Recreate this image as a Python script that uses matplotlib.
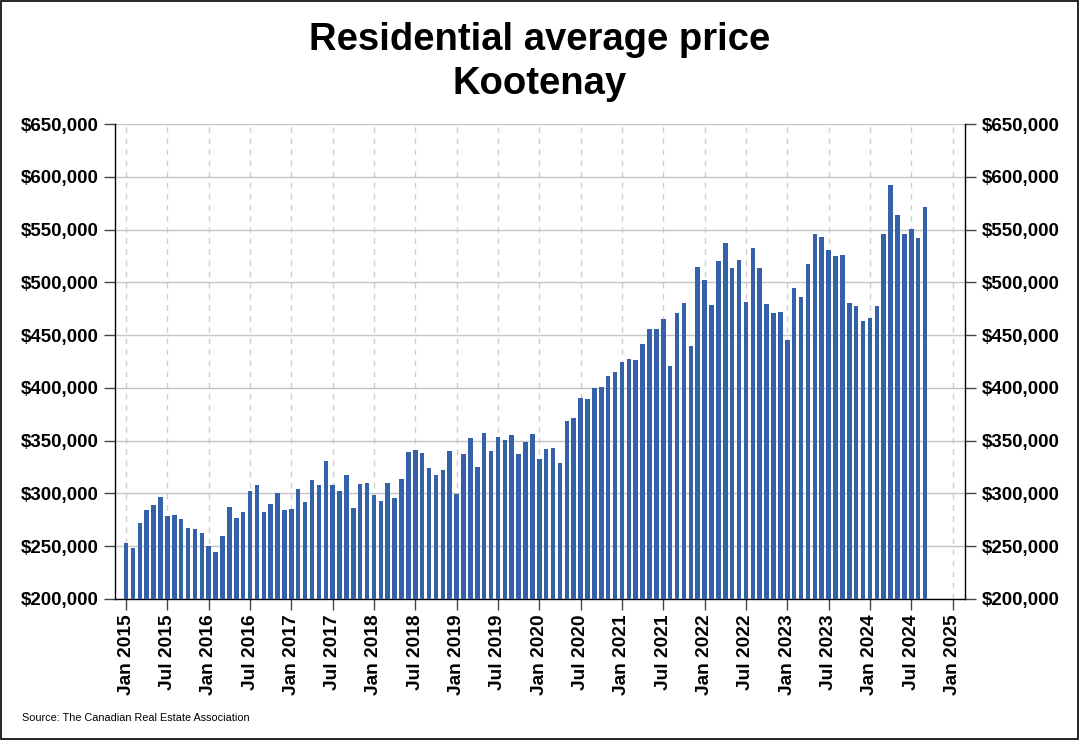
import matplotlib
matplotlib.use("Agg")
import matplotlib.pyplot as plt
from matplotlib.ticker import FuncFormatter, MultipleLocator, FixedLocator
from matplotlib.patches import Rectangle

plt.rcParams['font.family'] = ['Liberation Sans', 'DejaVu Sans']

# Monthly residential average price, Jan 2015 .. Sep 2024 (in $ thousands)
prices_k = [
    253, 248, 272, 284.5, 289, 296.5, 279, 280, 276, 267, 266.5, 263,          # 2015
    250, 245, 259.5, 287, 277, 282, 302, 308, 282, 290, 300, 284.5,            # 2016
    285, 304, 292, 312.5, 308, 330.5, 308, 302.5, 317.5, 286, 308.5, 310,      # 2017
    299, 292.5, 310, 295.5, 314, 339, 341, 338.5, 324.5, 317.5, 322.5, 340,    # 2018
    299.5, 337.5, 352.5, 325.5, 357, 340.5, 353.5, 350.5, 355.5, 337.5, 349, 356.5,  # 2019
    333, 342.5, 343.5, 329, 368.5, 371.5, 390, 389.5, 400, 401, 411, 415.5,    # 2020
    424.5, 427, 426, 441.5, 456, 455.5, 465.5, 421, 470.5, 480.5, 440, 515,    # 2021
    502.5, 479, 520.5, 537.5, 514, 521, 481, 533, 514, 479.5, 470.5, 471.5,    # 2022
    445, 495, 486.5, 517, 545.5, 542.5, 531, 525, 525.5, 480, 478, 463,        # 2023
    466.5, 478, 546, 592, 564, 545.5, 550.5, 542, 571.5,                       # 2024
]
prices = [p * 1000 for p in prices_k]
months = list(range(len(prices)))

tick_pos = list(range(0, 121, 6))
tick_labels = []
for i in tick_pos:
    year = 2015 + i // 12
    tick_labels.append(("Jan " if i % 12 == 0 else "Jul ") + str(year))

title = "Residential average price\nKootenay"
source = "Source: The Canadian Real Estate Association"

W, H = 1080, 740
fig = plt.figure(figsize=(W / 100, H / 100), dpi=100)
ax = fig.add_axes([115 / W, 1 - 599 / H, (965 - 115) / W, (599 - 124) / H])

ax.bar(months, prices, width=0.66, color='#3560AA', zorder=3)

ax.set_xlim(-1.6, 121.8)
ax.set_ylim(200000, 650000)
ax.yaxis.set_major_locator(MultipleLocator(50000))
ax.yaxis.set_major_formatter(FuncFormatter(lambda v, p: "${:,.0f}".format(v)))
ax.xaxis.set_major_locator(FixedLocator(tick_pos))
ax.set_xticklabels(tick_labels, rotation=90, fontsize=13.8, fontweight='bold')

ax.tick_params(axis='y', which='both', left=True, right=True, labelleft=True,
               labelright=True, length=8, width=1, color='#444444',
               labelsize=13.5, pad=4, direction='out')
ax.tick_params(axis='x', length=8, width=1, color='#444444', pad=3, direction='out')
for t in ax.yaxis.get_major_ticks():
    t.label1.set_fontweight('bold')
    t.label2.set_fontweight('bold')

ax.grid(axis='y', color='#c4c4c4', linewidth=1, linestyle='-', zorder=0)
ax.grid(axis='x', color='#cfcfcf', linewidth=1, linestyle=(0, (4, 4)), zorder=0)
ax.set_axisbelow(True)

ax.spines['top'].set_visible(False)
for s in ['left', 'right', 'bottom']:
    ax.spines[s].set_color('black')
    ax.spines[s].set_linewidth(1)

fig.text(0.5, 1 - 62 / H, title, ha='center', va='center', fontsize=27.5,
         fontweight='bold', linespacing=1.28)
fig.text(22 / W, 1 - 718 / H, source, ha='left', va='center', fontsize=7.8)

fig.patches.append(Rectangle((0.0005, 0.0007), 0.998, 0.998, transform=fig.transFigure,
                             fill=False, edgecolor='black', linewidth=1.2))

fig.savefig("out.png", dpi=100)
